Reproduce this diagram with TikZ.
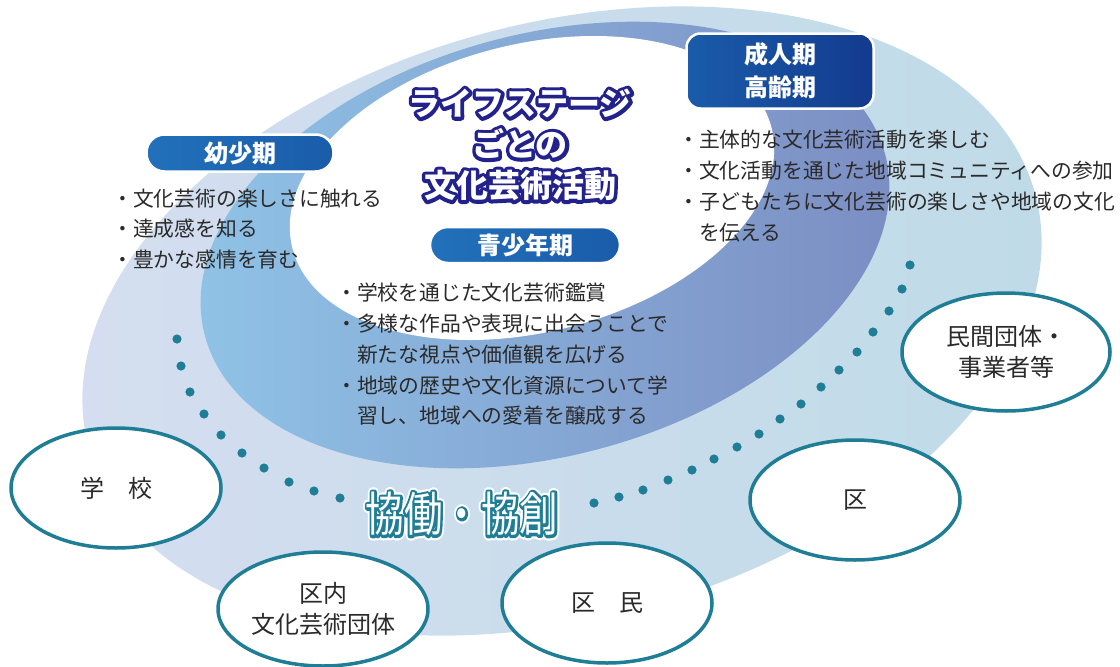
\documentclass[tikz,border=0pt]{standalone}
\usepackage{fontspec}
\setmainfont{Noto Sans CJK JP}
\usepackage{graphicx}
\usetikzlibrary{shapes.geometric}

\definecolor{palelav}{HTML}{D5DEF0}
\definecolor{palecyan}{HTML}{BFDBE7}
\definecolor{skyblue}{HTML}{90C4E7}
\definecolor{slateblue}{HTML}{7B8CC2}
\definecolor{boxblue}{HTML}{2271BA}
\definecolor{boxmid}{HTML}{1A5CAA}
\definecolor{boxdark}{HTML}{133A8E}
\definecolor{titlenavy}{HTML}{23228C}
\definecolor{kyoteal}{HTML}{1F7E96}
\definecolor{textgray}{HTML}{2A2A2A}

\newcommand\lifetitle{ライフステージ\\ごとの\\文化芸術活動}
\newcommand\kyotitle{\scalebox{0.82}[1]{協働・協創}}
% outlined glyphs: fill and stroke in one go
\newcommand\strokedtext[3]{\special{pdf:literal direct 2 Tr #1 w 1 j #2 RG}#3\special{pdf:literal direct 0 Tr}}

\tikzset{
  stagebox/.style={draw=white, line width=2.5pt, text=white, inner sep=0pt,
    font=\bfseries\fontsize{24}{33}\selectfont},
  pill/.style={stagebox, rounded corners=18pt, minimum width=187pt, minimum height=37pt,
    left color=boxblue, right color=boxmid},
  bullets/.style={align=left, anchor=west, inner sep=0pt, text=textgray,
    font=\fontsize{20.8}{30.8}\selectfont},
  partner/.style={ellipse, draw=kyoteal, line width=3.5pt, fill=white, inner sep=0pt,
    minimum width=210pt, minimum height=120pt, align=center, text=textgray,
    font=\fontsize{24}{31}\selectfont},
  kyodot/.style={fill=kyoteal},
  titletext/.style={align=center, inner sep=0pt, text=white,
    font=\bfseries\fontsize{32}{41}\selectfont},
  kyotext/.style={inner sep=0pt, text=white, font=\fontsize{47}{47}\selectfont}
}

\begin{document}
\begin{tikzpicture}[x=1pt, y=-1pt]
  \useasboundingbox (0,0) rectangle (1120,667);

  \shade[rotate around={15:(562,321)}, left color=palelav, right color=palecyan]
    (562,321) ellipse [x radius=490, y radius=298];
  \shade[rotate around={15:(545,245)}, left color=skyblue, right color=slateblue]
    (545,245) ellipse [x radius=352, y radius=211];
  \fill[white, rotate around={14:(532,188)}] (532,188) ellipse [x radius=247, y radius=144];

  \foreach \p in {(177,339),(181,366),(190,392),(204,414),(221,435),(242,453),
      (264,468),(289,482),(314,491),(340,498)}
    \fill[kyodot] \p circle (4.6pt);
  \foreach \p in {(594,503),(619,497),(643,490),(668,480),(692,470),(714,459),
      (737,447),(759,434),(780,419),(801,404),(821,387),(839,370),(857,352),
      (873,332),(889,311),(902,289),(910,265)}
    \fill[kyodot] \p circle (4.6pt);

  \node[titletext] at (520,145) {\strokedtext{7}{0.137 0.133 0.549}{\lifetitle}};
  \node[titletext] (title) at (520,145) {\lifetitle};

  \node[pill] (youshou) at (240,153) {幼少期};
  \node[pill, minimum width=190pt, minimum height=36pt] (seishounen) at (525,245) {青少年期};
  \node[stagebox, rounded corners=14pt, minimum width=187pt, minimum height=75pt,
    align=center, left color=boxmid, right color=boxdark] (seijin) at (780,71) {成人期\\高齢期};

  \node[bullets] (youshoulist) at (112,229)
    {・文化芸術の楽しさに触れる\\・達成感を知る\\・豊かな感情を育む};
  \node[bullets] (seishounenlist) at (336,354.5)
    {・学校を通じた文化芸術鑑賞\\・多様な作品や表現に出会うことで\\　新たな視点や価値観を広げる\\・地域の歴史や文化資源について学\\　習し、地域への愛着を醸成する};
  \node[bullets] (seijinlist) at (678,186)
    {・主体的な文化芸術活動を楽しむ\\・文化活動を通じた地域コミュニティへの参加\\・子どもたちに文化芸術の楽しさや地域の文化\\　を伝える};

  \node[kyotext] at (462,514) {\strokedtext{10}{1 1 1}{\kyotitle}};
  \node[kyotext] at (462,514) {\strokedtext{5.5}{0.122 0.494 0.588}{\kyotitle}};
  \node[kyotext] (kyodo) at (462,514) {\kyotitle};

  \node[partner] (gakko) at (116,488) {学　校};
  \node[partner, minimum height=114pt] (kunai) at (323,609) {区内\\文化芸術団体};
  \node[partner] (kumin) at (607,603) {区　民};
  \node[partner] (ku) at (855,500) {区};
  \node[partner, minimum width=208pt, minimum height=118pt] (minkan) at (1006,352)
    {民間団体・\\事業者等};
\end{tikzpicture}
\end{document}
